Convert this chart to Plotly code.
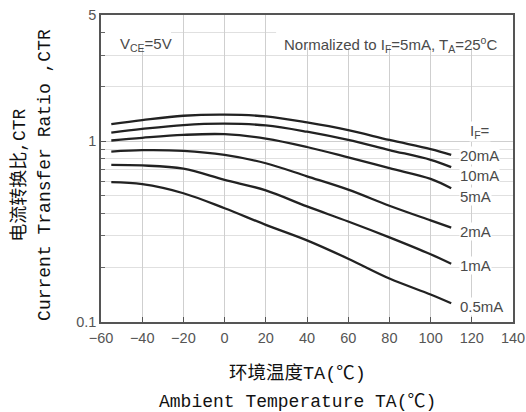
import math
import plotly.graph_objects as go

# ---- data ----
temps = [-55, -40, -20, 0, 20, 40, 60, 80, 100, 110]
ctr_20mA = [1.246, 1.31, 1.385, 1.405, 1.374, 1.273, 1.154, 1.017, 0.905, 0.842]
ctr_10mA = [1.117, 1.17, 1.23, 1.252, 1.225, 1.13, 1.017, 0.895, 0.79, 0.72]
ctr_5mA = [1.01, 1.045, 1.085, 1.095, 1.035, 0.93, 0.815, 0.71, 0.62, 0.55]
ctr_2mA = [0.877, 0.893, 0.885, 0.84, 0.756, 0.64, 0.54, 0.44, 0.365, 0.333]
ctr_1mA = [0.74, 0.735, 0.705, 0.612, 0.535, 0.436, 0.36, 0.294, 0.237, 0.21]
ctr_05mA = [0.594, 0.579, 0.516, 0.426, 0.345, 0.283, 0.224, 0.174, 0.142, 0.127]
series = [ctr_20mA, ctr_10mA, ctr_5mA, ctr_2mA, ctr_1mA, ctr_05mA]
series_labels = ["20mA", "10mA", "5mA", "2mA", "1mA", "0.5mA"]
label_yshift = [-1, -8, -8, -4, -2, -3]

x_ticks = [-60, -40, -20, 0, 20, 40, 60, 80, 100, 120, 140]
y_ticks = [0.1, 1, 5]
y_ticktext = ["0.1", "1", "5"]
y_minor = [0.2, 0.3, 0.4, 0.5, 0.6, 0.7, 0.8, 0.9, 2, 3, 4]

TXT = "#4a4a4a"
SANS = "Liberation Sans, Arial, sans-serif"
MONO = "Liberation Mono, Noto Sans CJK SC, monospace"
FS = 15

fig = go.Figure()
for vals, name in zip(series, series_labels):
    fig.add_trace(go.Scatter(
        x=temps, y=vals, mode="lines", name=name,
        line=dict(color="#222222", width=2.3, shape="spline", smoothing=1.0),
        showlegend=False, hoverinfo="skip"))

annotations = []
for vals, name, ys in zip(series, series_labels, label_yshift):
    annotations.append(dict(
        x=114, y=math.log10(vals[-1]), xref="x", yref="y", text=name,
        showarrow=False, xanchor="left", yanchor="middle", yshift=ys,
        font=dict(family=SANS, size=FS, color=TXT),
        bgcolor="white", borderpad=0))
annotations.append(dict(
    x=124, y=math.log10(1.13), xref="x", yref="y", text="I<sub>F</sub>=",
    showarrow=False, xanchor="center", yanchor="middle",
    font=dict(family=SANS, size=FS, color=TXT), bgcolor="white", borderpad=0))
annotations.append(dict(
    x=0.041, y=0.905, xref="paper", yref="paper", text="V<sub>CE</sub>=5V",
    showarrow=False, xanchor="left", yanchor="middle",
    font=dict(family=SANS, size=FS, color=TXT)))
annotations.append(dict(
    x=0.965, y=0.905, xref="paper", yref="paper",
    text="Normalized to I<sub>F</sub>=5mA, T<sub>A</sub>=25<sup>o</sup>C",
    showarrow=False, xanchor="right", yanchor="middle",
    font=dict(family=SANS, size=FS, color=TXT)))
# axis titles
annotations.append(dict(
    x=0.476, y=-0.169, xref="paper", yref="paper", text="环境温度TA(℃)",
    showarrow=False, xanchor="center", yanchor="middle",
    font=dict(family=MONO, size=18.5, color="#111111")))
annotations.append(dict(
    x=0.476, y=-0.261, xref="paper", yref="paper", text="Ambient Temperature TA(℃)",
    showarrow=False, xanchor="center", yanchor="middle",
    font=dict(family=MONO, size=18, color="#111111")))
annotations.append(dict(
    x=-0.197, y=0.479, xref="paper", yref="paper", text="电流转换比,CTR",
    showarrow=False, xanchor="center", yanchor="middle", textangle=-90,
    font=dict(family=MONO, size=18, color="#111111")))
annotations.append(dict(
    x=-0.136, y=0.479, xref="paper", yref="paper", text="Current Transfer Ratio ,CTR",
    showarrow=False, xanchor="center", yanchor="middle", textangle=-90,
    font=dict(family=MONO, size=18, color="#111111")))

shapes = [
    dict(type="rect", xref="x", yref="y", x0=-60, x1=-26, y0=3.3, y1=5,
         fillcolor="white", line=dict(width=0), layer="between"),
    dict(type="rect", xref="x", yref="y", x0=25, x1=140, y0=3.3, y1=5,
         fillcolor="white", line=dict(width=0), layer="between"),
]

fig.update_layout(
    width=526, height=412,
    margin=dict(l=101, r=13, t=15, b=90, autoexpand=False),
    paper_bgcolor="white", plot_bgcolor="white",
    annotations=annotations, shapes=shapes,
    xaxis=dict(
        range=[-60, 140], tickvals=x_ticks, ticks="inside", ticklen=5,
        tickcolor="#555", showgrid=True, gridcolor="#cfcfcf", gridwidth=1,
        showline=True, linecolor="#555", linewidth=1.5, mirror=True,
        zeroline=False, automargin=False,
        tickfont=dict(family=SANS, size=14.5, color="#555"),
        ticklabelstandoff=2),
    yaxis=dict(
        type="log", range=[-1, math.log10(5)], tickvals=y_ticks, ticktext=y_ticktext,
        ticks="inside", ticklen=5, tickcolor="#555",
        showgrid=True, gridcolor="#cfcfcf", gridwidth=1,
        minor=dict(tickmode="array", tickvals=y_minor, ticks="inside", ticklen=4,
                   tickcolor="#666", showgrid=True, gridcolor="#e0e0e0", gridwidth=1),
        showline=True, linecolor="#555", linewidth=1.5, mirror=True,
        zeroline=False, automargin=False,
        tickfont=dict(family=SANS, size=14.5, color="#555")),
)

fig.write_html("out.html", config={"displayModeBar": False},
               post_script="document.body.style.margin='0px';document.body.style.overflow='hidden';")
